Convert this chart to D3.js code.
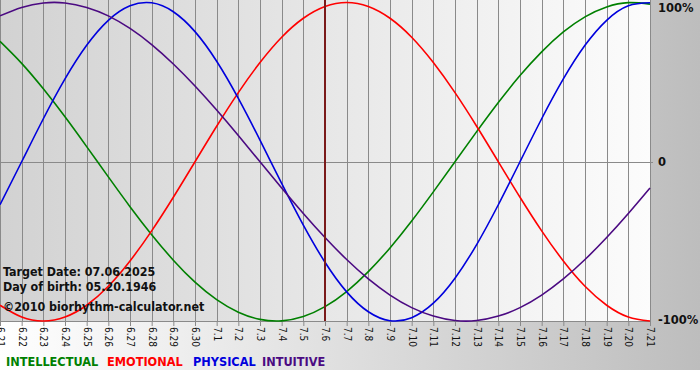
<!DOCTYPE html>
<html>
<head>
<meta charset="utf-8">
<script src="https://cdn.jsdelivr.net/npm/d3@7"></script>
<style>
  body { margin: 0; background: #fff; }
  svg { display: block; }
</style>
</head>
<body>
<script>
// day labels along the bottom
var days = ["6.21","6.22","6.23","6.24","6.25","6.26","6.27","6.28","6.29","6.30",
  "7.1","7.2","7.3","7.4","7.5","7.6","7.7","7.8","7.9","7.10","7.11","7.12",
  "7.13","7.14","7.15","7.16","7.17","7.18","7.19","7.20","7.21"];

// cycle values per day, -1 .. 1
var intellectual = [0.756,0.618,0.458,0.282,0.095,-0.095,-0.282,-0.458,-0.618,-0.756,-0.866,-0.945,-0.990,-0.999,-0.972,-0.910,
  -0.815,-0.690,-0.541,-0.372,-0.189,0,0.189,0.372,0.541,0.690,0.815,0.910,0.972,0.999,0.990];
var emotional = [-0.901,-0.975,-1.000,-0.975,-0.901,-0.782,-0.623,-0.434,-0.223,0,0.223,0.434,0.623,0.782,0.901,0.975,
  1.000,0.975,0.901,0.782,0.623,0.434,0.223,0,-0.223,-0.434,-0.623,-0.782,-0.901,-0.975,-1.000];
var physical = [-0.270,0,0.270,0.520,0.731,0.888,0.979,0.998,0.942,0.817,0.631,0.398,0.136,-0.136,-0.398,-0.631,
  -0.817,-0.942,-0.998,-0.979,-0.888,-0.731,-0.520,-0.270,0,0.270,0.520,0.731,0.888,0.979,0.998];
var intuitive = [0.916,0.969,0.997,0.997,0.969,0.916,0.837,0.736,0.614,0.476,0.325,0.165,0,-0.165,-0.325,-0.476,
  -0.614,-0.736,-0.837,-0.916,-0.969,-0.997,-0.997,-0.969,-0.916,-0.837,-0.736,-0.614,-0.476,-0.325,-0.165];

var seriesNames = ["INTELLECTUAL","EMOTIONAL","PHYSICAL","INTUITIVE"];
var seriesColors = ["#008000","#ff0000","#0000dd","#4b0a82"];
var yTicks = [1, 0, -1];
var yTickLabels = ["100%", "0", "-100%"];
var targetDay = "7.6";
var infoLines = ["Target Date: 07.06.2025", "Day of birth: 05.20.1946", "©2010 biorhythm-calculator.net"];

var w = 700, h = 380;
var plotW = 650, plotTop = 2.5, plotBottom = 321;

var svg = d3.select("body").append("svg")
  .attr("width", w)
  .attr("height", h);

var defs = svg.append("defs");
var bgGrad = defs.append("linearGradient").attr("id", "bgGrad");
bgGrad.append("stop").attr("offset", "0%").attr("stop-color", "#ffffff");
bgGrad.append("stop").attr("offset", "100%").attr("stop-color", "#bdbdbd");
var plotGrad = defs.append("linearGradient").attr("id", "plotGrad");
plotGrad.append("stop").attr("offset", "0%").attr("stop-color", "#d2d2d2");
plotGrad.append("stop").attr("offset", "100%").attr("stop-color", "#fcfcfc");

svg.append("rect").attr("width", w).attr("height", 370).attr("fill", "url(#bgGrad)");
svg.append("rect").attr("width", plotW).attr("height", plotBottom).attr("fill", "url(#plotGrad)");

var x = d3.scalePoint().domain(days).range([0, plotW]);
var y = d3.scaleLinear().domain([-1, 1]).range([plotBottom, plotTop]);

// vertical day grid
svg.append("g").selectAll("line")
  .data(days)
  .enter().append("line")
  .attr("x1", function(d) { return Math.round(x(d)) + 0.5; })
  .attr("x2", function(d) { return Math.round(x(d)) + 0.5; })
  .attr("y1", 0)
  .attr("y2", plotBottom)
  .attr("stroke", "#8a8a8a")
  .attr("stroke-width", 1);

// zero line
svg.append("line")
  .attr("x1", 0).attr("x2", plotW + 3)
  .attr("y1", Math.round(y(0)) + 0.5).attr("y2", Math.round(y(0)) + 0.5)
  .attr("stroke", "#8a8a8a");

// bottom axis
var xAxis = svg.append("g")
  .attr("transform", "translate(0," + plotBottom + ")")
  .call(d3.axisBottom(x).tickSize(5).tickSizeOuter(0));
xAxis.select(".domain").attr("stroke", "#8a8a8a");
xAxis.selectAll(".tick line").attr("stroke", "#8a8a8a");
xAxis.selectAll(".tick text")
  .attr("transform", "rotate(90)")
  .attr("x", 6)
  .attr("y", 0)
  .attr("dy", "0.35em")
  .attr("text-anchor", "start")
  .attr("fill", "#111")
  .style("font-family", "'DejaVu Sans Condensed', 'DejaVu Sans', sans-serif")
  .style("font-size", "10px");

// right axis labels
var yAxis = svg.append("g")
  .attr("transform", "translate(" + plotW + ",0)")
  .call(d3.axisRight(y).tickValues(yTicks).tickSize(0)
    .tickFormat(function(d, i) { return yTickLabels[i]; }));
yAxis.select(".domain").remove();
yAxis.selectAll(".tick text")
  .attr("x", 8)
  .attr("fill", "#111")
  .style("font-family", "'DejaVu Sans', sans-serif")
  .style("font-weight", "bold")
  .style("font-size", "11.5px");
yAxis.selectAll(".tick").filter(function(d) { return d === 1; }).select("text").attr("dy", "0.78em");
yAxis.selectAll(".tick").filter(function(d) { return d === -1; }).select("text").attr("dy", "0.2em");

// curves
var seriesData = [intellectual, emotional, physical, intuitive];
var line = d3.line()
  .x(function(d, i) { return x(days[i]); })
  .y(function(d) { return y(d); })
  .curve(d3.curveNatural);

svg.append("g").selectAll("path")
  .data(seriesData)
  .enter().append("path")
  .attr("d", line)
  .attr("fill", "none")
  .attr("stroke", function(d, i) { return seriesColors[i]; })
  .attr("stroke-width", 1.6);

// target date marker
svg.append("line")
  .attr("x1", x(targetDay)).attr("x2", x(targetDay))
  .attr("y1", 0).attr("y2", plotBottom)
  .attr("stroke", "#7a1a1a")
  .attr("stroke-width", 2);

// info text
svg.append("g").selectAll("text")
  .data(infoLines)
  .enter().append("text")
  .attr("x", 3)
  .attr("y", function(d, i) { return [276, 291, 311][i]; })
  .text(function(d) { return d; })
  .attr("fill", "#111")
  .style("font-family", "'DejaVu Sans Condensed', 'DejaVu Sans', sans-serif")
  .style("font-weight", "bold")
  .style("font-size", "12.4px");

// legend
var legendX = [6, 107, 193, 262];
svg.append("g").selectAll("text")
  .data(seriesNames)
  .enter().append("text")
  .attr("x", function(d, i) { return legendX[i]; })
  .attr("y", 366)
  .text(function(d) { return d; })
  .attr("fill", function(d, i) { return seriesColors[i]; })
  .style("font-family", "'DejaVu Sans Condensed', 'DejaVu Sans', sans-serif")
  .style("font-weight", "bold")
  .style("font-size", "12.6px");
</script>
</body>
</html>
